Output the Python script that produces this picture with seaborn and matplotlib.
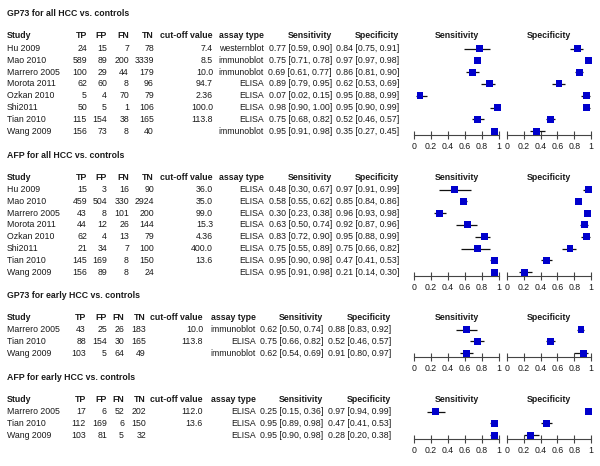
import numpy as np
import pandas as pd
import matplotlib
matplotlib.use("Agg")
import matplotlib.pyplot as plt
import seaborn as sns

sns.set_theme(style="white")
plt.rcParams['font.family'] = ['Liberation Sans', 'DejaVu Sans']

# ---- data ----
titles = ["GP73 for all HCC vs. controls", "AFP for all HCC vs. controls",
          "GP73 for early HCC vs. controls", "AFP for early HCC vs. controls"]

all_studies = ["Hu 2009", "Mao 2010", "Marrero 2005", "Morota 2011",
               "Ozkan 2010", "Shi2011", "Tian 2010", "Wang 2009"]
early_studies = ["Marrero 2005", "Tian 2010", "Wang 2009"]

gp73_all_tp = [24, 589, 100, 62, 5, 50, 115, 156]
gp73_all_fp = [15, 89, 29, 60, 4, 5, 154, 73]
gp73_all_fn = [7, 200, 44, 8, 70, 1, 38, 8]
gp73_all_tn = [78, 3339, 179, 96, 79, 106, 165, 40]
gp73_all_cutoff = ["7.4", "8.5", "10.0", "94.7", "2.36", "100.0", "113.8", ""]
gp73_all_assay = ["westernblot", "immunoblot", "immunoblot", "ELISA",
                  "ELISA", "ELISA", "ELISA", "immunoblot"]
gp73_all_sens = [0.77, 0.75, 0.69, 0.89, 0.07, 0.98, 0.75, 0.95]
gp73_all_sens_lo = [0.59, 0.71, 0.61, 0.79, 0.02, 0.90, 0.68, 0.91]
gp73_all_sens_hi = [0.90, 0.78, 0.77, 0.95, 0.15, 1.00, 0.82, 0.98]
gp73_all_spec = [0.84, 0.97, 0.86, 0.62, 0.95, 0.95, 0.52, 0.35]
gp73_all_spec_lo = [0.75, 0.97, 0.81, 0.53, 0.88, 0.90, 0.46, 0.27]
gp73_all_spec_hi = [0.91, 0.98, 0.90, 0.69, 0.99, 0.99, 0.57, 0.45]

afp_all_tp = [15, 459, 43, 44, 62, 21, 145, 156]
afp_all_fp = [3, 504, 8, 12, 4, 34, 169, 89]
afp_all_fn = [16, 330, 101, 26, 13, 7, 8, 8]
afp_all_tn = [90, 2924, 200, 144, 79, 100, 150, 24]
afp_all_cutoff = ["36.0", "35.0", "99.0", "15.3", "4.36", "400.0", "13.6", ""]
afp_all_assay = ["ELISA"] * 8
afp_all_sens = [0.48, 0.58, 0.30, 0.63, 0.83, 0.75, 0.95, 0.95]
afp_all_sens_lo = [0.30, 0.55, 0.23, 0.50, 0.72, 0.55, 0.90, 0.91]
afp_all_sens_hi = [0.67, 0.62, 0.38, 0.74, 0.90, 0.89, 0.98, 0.98]
afp_all_spec = [0.97, 0.85, 0.96, 0.92, 0.95, 0.75, 0.47, 0.21]
afp_all_spec_lo = [0.91, 0.84, 0.93, 0.87, 0.88, 0.66, 0.41, 0.14]
afp_all_spec_hi = [0.99, 0.86, 0.98, 0.96, 0.99, 0.82, 0.53, 0.30]

gp73_early_tp = [43, 88, 103]
gp73_early_fp = [25, 154, 5]
gp73_early_fn = [26, 30, 64]
gp73_early_tn = [183, 165, 49]
gp73_early_cutoff = ["10.0", "113.8", ""]
gp73_early_assay = ["immunoblot", "ELISA", "immunoblot"]
gp73_early_sens = [0.62, 0.75, 0.62]
gp73_early_sens_lo = [0.50, 0.66, 0.54]
gp73_early_sens_hi = [0.74, 0.82, 0.69]
gp73_early_spec = [0.88, 0.52, 0.91]
gp73_early_spec_lo = [0.83, 0.46, 0.80]
gp73_early_spec_hi = [0.92, 0.57, 0.97]

afp_early_tp = [17, 112, 103]
afp_early_fp = [6, 169, 81]
afp_early_fn = [52, 6, 5]
afp_early_tn = [202, 150, 32]
afp_early_cutoff = ["112.0", "13.6", ""]
afp_early_assay = ["ELISA"] * 3
afp_early_sens = [0.25, 0.95, 0.95]
afp_early_sens_lo = [0.15, 0.89, 0.90]
afp_early_sens_hi = [0.36, 0.98, 0.98]
afp_early_spec = [0.97, 0.47, 0.28]
afp_early_spec_lo = [0.94, 0.41, 0.20]
afp_early_spec_hi = [0.99, 0.53, 0.38]

tick_vals = [0, 0.2, 0.4, 0.6, 0.8, 1]
tick_labels = ["0", "0.2", "0.4", "0.6", "0.8", "1"]


def make_df(studies, tp, fp, fn, tn, cutoff, assay, se, se_lo, se_hi, sp, sp_lo, sp_hi):
    df = pd.DataFrame({"study": studies, "TP": tp, "FP": fp, "FN": fn, "TN": tn,
                       "cutoff": cutoff, "assay": assay,
                       "sens": se, "sens_lo": se_lo, "sens_hi": se_hi,
                       "spec": sp, "spec_lo": sp_lo, "spec_hi": sp_hi})
    df["row"] = np.arange(len(df))
    return df


panels = [
    make_df(all_studies, gp73_all_tp, gp73_all_fp, gp73_all_fn, gp73_all_tn,
            gp73_all_cutoff, gp73_all_assay, gp73_all_sens, gp73_all_sens_lo,
            gp73_all_sens_hi, gp73_all_spec, gp73_all_spec_lo, gp73_all_spec_hi),
    make_df(all_studies, afp_all_tp, afp_all_fp, afp_all_fn, afp_all_tn,
            afp_all_cutoff, afp_all_assay, afp_all_sens, afp_all_sens_lo,
            afp_all_sens_hi, afp_all_spec, afp_all_spec_lo, afp_all_spec_hi),
    make_df(early_studies, gp73_early_tp, gp73_early_fp, gp73_early_fn, gp73_early_tn,
            gp73_early_cutoff, gp73_early_assay, gp73_early_sens, gp73_early_sens_lo,
            gp73_early_sens_hi, gp73_early_spec, gp73_early_spec_lo, gp73_early_spec_hi),
    make_df(early_studies, afp_early_tp, afp_early_fp, afp_early_fn, afp_early_tn,
            afp_early_cutoff, afp_early_assay, afp_early_sens, afp_early_sens_lo,
            afp_early_sens_hi, afp_early_spec, afp_early_spec_lo, afp_early_spec_hi),
]

# ---- layout (in pixels of the 600x466 image) ----
W, H = 600, 466
title_px = [14, 155, 295, 377]
header_off, row0_off, row_step = 22, 34.5, 11.8
wide_cols = [87, 107, 129, 154, 213, 264, 332, 399]
narrow_cols = [86, 107, 124, 146, 203, 256, 323, 391]
col_pos = [wide_cols, wide_cols, narrow_cols, narrow_cols]
forest_x = [(414, 499), (507, 591)]
FS = 6.3
TXT = "#1a1a1a"

fig = plt.figure(figsize=(6, 4.66), dpi=100)


def fx(p):
    return p / W


def fy(p):
    return 1 - p / H


for k, df in enumerate(panels):
    t = title_px[k]
    hy = t + header_off
    n = len(df)
    rows_px = t + row0_off + row_step * df["row"].to_numpy()
    cols = col_pos[k]

    fig.text(fx(7), fy(t), titles[k], fontsize=FS, fontweight="bold", color=TXT, va="center")

    heads = ["TP", "FP", "FN", "TN", "cut-off value", "assay type", "Sensitivity", "Specificity"]
    fig.text(fx(7), fy(hy), "Study", fontsize=FS, fontweight="bold", color=TXT, va="center")
    for h, c in zip(heads, cols):
        fig.text(fx(c), fy(hy), h, fontsize=FS, fontweight="bold", color=TXT,
                 va="center", ha="right")

    for i, r in df.iterrows():
        y = fy(rows_px[i])
        cells = [str(r.TP), str(r.FP), str(r.FN), str(r.TN), r.cutoff, r.assay,
                 f"{r.sens:.2f} [{r.sens_lo:.2f}, {r.sens_hi:.2f}]",
                 f"{r.spec:.2f} [{r.spec_lo:.2f}, {r.spec_hi:.2f}]"]
        fig.text(fx(7), y, r.study, fontsize=FS, color=TXT, va="center")
        for s, c in zip(cells, cols):
            fig.text(fx(c), y, s, fontsize=FS, color=TXT, va="center", ha="right")

    # forest plots
    axis_px = rows_px[-1] + 3.5
    for (x0, x1), name in zip(forest_x, ["sens", "spec"]):
        ax = fig.add_axes([fx(x0), fy(axis_px), (x1 - x0) / W, (axis_px - hy) / H])
        ax.hlines(df["row"], df[name + "_lo"], df[name + "_hi"], color="#111111", lw=0.9)
        sns.scatterplot(data=df, x=name, y="row", marker="s", s=24, color="#0000CC",
                        edgecolor="none", ax=ax, clip_on=False, zorder=3)
        ax.set_xlim(0, 1)
        ax.set_ylim(n - 1 + 3.5 / row_step, -(row0_off - header_off) / row_step)
        ax.set_xlabel("")
        ax.set_ylabel("")
        ax.set_yticks([])
        ax.set_xticks(tick_vals)
        ax.set_xticklabels(tick_labels, fontsize=FS, color=TXT)
        ax.tick_params(axis="x", direction="inout", length=6, width=0.8,
                       color="#444444", pad=2, bottom=True)
        for sp in ["top", "left", "right"]:
            ax.spines[sp].set_visible(False)
        ax.spines["bottom"].set_color("#444444")
        ax.spines["bottom"].set_linewidth(0.8)
        ax.patch.set_alpha(0)
        fig.text(fx((x0 + x1) / 2), fy(hy),
                 "Sensitivity" if name == "sens" else "Specificity",
                 fontsize=FS, fontweight="bold", color=TXT, va="center", ha="center")

fig.savefig("out.png", dpi=100)
